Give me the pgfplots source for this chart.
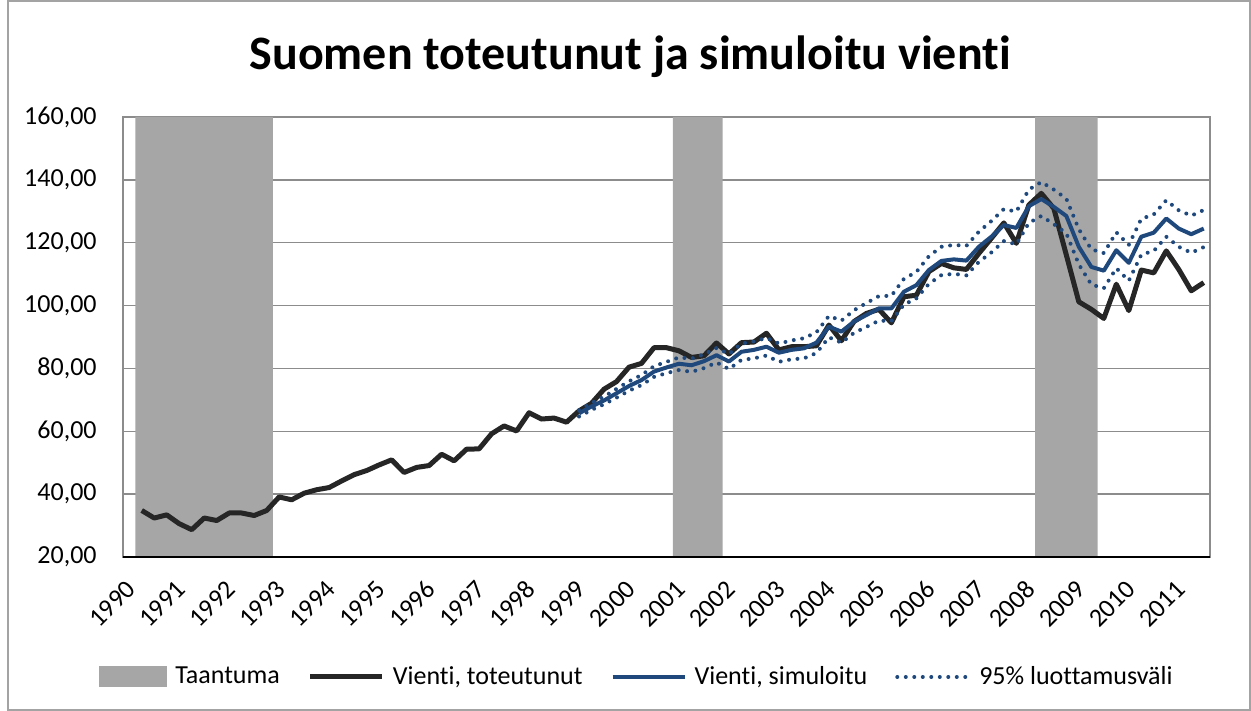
\documentclass[border=0pt]{standalone}
\usepackage{fontspec}
\setmainfont{Carlito}[Ligatures={NoCommon}]
\usepackage{pgfplots}
\usepackage{pgfplotstable}
\pgfplotsset{compat=1.18}
\definecolor{recgray}{HTML}{A6A6A6}
\definecolor{actblk}{HTML}{262626}
\definecolor{simblue}{HTML}{1F497D}
\definecolor{gridgray}{HTML}{8C8C8C}

\pgfplotstableread{
x y
1 34.8
2 32.4
3 33.4
4 30.6
5 28.7
6 32.4
7 31.6
8 34.0
9 34.0
10 33.2
11 34.8
12 39.1
13 38.2
14 40.3
15 41.4
16 42.1
17 44.2
18 46.2
19 47.5
20 49.3
21 50.9
22 46.9
23 48.5
24 49.1
25 52.7
26 50.6
27 54.3
28 54.4
29 59.2
30 61.7
31 60.1
32 65.9
33 63.9
34 64.2
35 62.9
36 66.5
37 68.9
38 73.4
39 75.8
40 80.4
41 81.6
42 86.6
43 86.6
44 85.6
45 83.5
46 84.0
47 88.1
48 84.6
49 88.2
50 88.4
51 91.2
52 85.9
53 86.9
54 86.9
55 87.2
56 93.8
57 88.8
58 94.9
59 97.5
60 98.8
61 94.5
62 102.8
63 103.3
64 110.8
65 113.4
66 112.0
67 111.5
68 116.6
69 121.4
70 126.3
71 119.8
72 132.0
73 135.7
74 130.9
75 116.1
76 101.2
77 98.8
78 95.9
79 106.8
80 98.4
81 111.3
82 110.4
83 117.4
84 111.5
85 104.7
86 107.3
}\actual

\pgfplotstableread{
x sim up low
36 65.7 66.7 64.7
37 67.9 69.0 66.8
38 69.8 71.0 68.6
39 72.1 73.5 70.7
40 74.4 75.9 72.9
41 76.3 77.9 74.7
42 79.0 80.7 77.3
43 80.3 82.1 78.5
44 81.5 83.5 79.5
45 81.0 83.1 78.9
46 82.3 84.5 80.1
47 84.2 86.5 81.9
48 82.2 84.6 79.8
49 85.3 87.9 82.7
50 85.9 88.6 83.2
51 86.9 89.7 84.1
52 85.0 87.9 82.1
53 85.9 88.9 82.9
54 86.4 89.6 83.2
55 88.2 91.5 84.9
56 93.3 96.7 89.9
57 91.7 95.2 88.2
58 94.9 98.5 91.3
59 97.0 100.8 93.2
60 99.1 103.0 95.2
61 99.1 103.1 95.1
62 104.4 108.5 100.3
63 106.5 110.7 102.3
64 111.3 115.7 106.9
65 114.2 118.7 109.7
66 114.7 119.3 110.1
67 114.3 119.0 109.6
68 118.7 123.5 113.9
69 121.9 126.9 116.9
70 125.6 130.7 120.5
71 124.7 129.9 119.5
72 131.6 136.9 126.3
73 133.9 139.3 128.5
74 131.4 136.9 125.9
75 128.5 134.0 123.0
76 118.7 124.3 113.1
77 112.3 117.9 106.7
78 111.1 116.7 105.5
79 117.6 123.3 111.9
80 113.6 119.3 107.9
81 121.9 127.6 116.2
82 123.2 129.0 117.4
83 127.7 133.5 121.9
84 124.5 130.3 118.7
85 122.7 128.6 116.8
86 124.5 130.4 118.6
}\simulated

\begin{document}
\begin{tikzpicture}
\useasboundingbox (0,0) rectangle (625.5pt,355.5pt);
\begin{axis}[
  at={(61.5pt,77pt)}, anchor=south west,
  scale only axis, width=543.5pt, height=220pt,
  xmin=-0.5, xmax=86.5, ymin=20, ymax=160,
  xtick={0,4,...,84},
  xticklabels={1990,1991,1992,1993,1994,1995,1996,1997,1998,1999,2000,2001,2002,2003,2004,2005,2006,2007,2008,2009,2010,2011},
  ytick={20,40,...,160},
  ymajorgrids,
  grid style={gridgray, line width=0.75pt},
  axis line style={gridgray, line width=0.75pt},
  major tick length=0pt,
  tick style={draw=none},
  tick label style={font=\fontsize{13}{15}\selectfont},
  yticklabel style={inner sep=0pt, xshift=-13pt, /pgf/number format/.cd, fixed, fixed zerofill, precision=2, use comma, assume math mode=true},
  xticklabel style={xshift=1pt, yshift=-14pt, rotate=45, anchor=east, inner sep=0pt},
  title={Suomen toteutunut ja simuloitu vienti},
  title style={at={(0.4665,1.109)}, anchor=center, font=\bfseries\fontsize{24}{28}\selectfont},
  legend columns=4,
  legend style={at={(0.4719,-0.2727)}, anchor=center, draw=none, fill=none,
    font=\fontsize{13}{15}\selectfont, inner sep=0pt, nodes={inner sep=0pt},
    /tikz/every odd column/.append style={column sep=4pt},
    /tikz/every even column/.append style={column sep=14pt}},
  legend image code/.code={\draw[#1] (0pt,0pt) -- (36pt,0pt);},
  clip mode=individual,
]
\addplot[fill=recgray, draw=none,
  legend image code/.code={\fill[recgray] (0pt,-5.25pt) rectangle (34pt,5.25pt);}]
  coordinates {(0.5,20) (0.5,160) (11.5,160) (11.5,20) (43.5,20) (43.5,160) (47.5,160) (47.5,20) (72.5,20) (72.5,160) (77.5,160) (77.5,20)} -- cycle;
\addlegendentry{Taantuma}
\addplot[actblk, line width=2.5pt, line join=round] table[x=x, y=y] {\actual};
\addlegendentry{Vienti, toteutunut}
\addplot[simblue, line width=2pt, line join=round] table[x=x, y=sim] {\simulated};
\addlegendentry{Vienti, simuloitu}
\addplot[simblue, line width=2pt, line cap=round, dash pattern=on 0pt off 4.25pt] table[x=x, y=up] {\simulated};
\addlegendentry{95\% luottamusväli}
\addplot[simblue, line width=2pt, line cap=round, dash pattern=on 0pt off 4.25pt, forget plot] table[x=x, y=low] {\simulated};
\draw[black, line width=1pt] (rel axis cs:0,0) -- (rel axis cs:1,0);
\end{axis}
\draw[gridgray!80, line width=0.75pt] (4pt,0.5pt) rectangle (624.9pt,355pt);
\end{tikzpicture}
\end{document}
